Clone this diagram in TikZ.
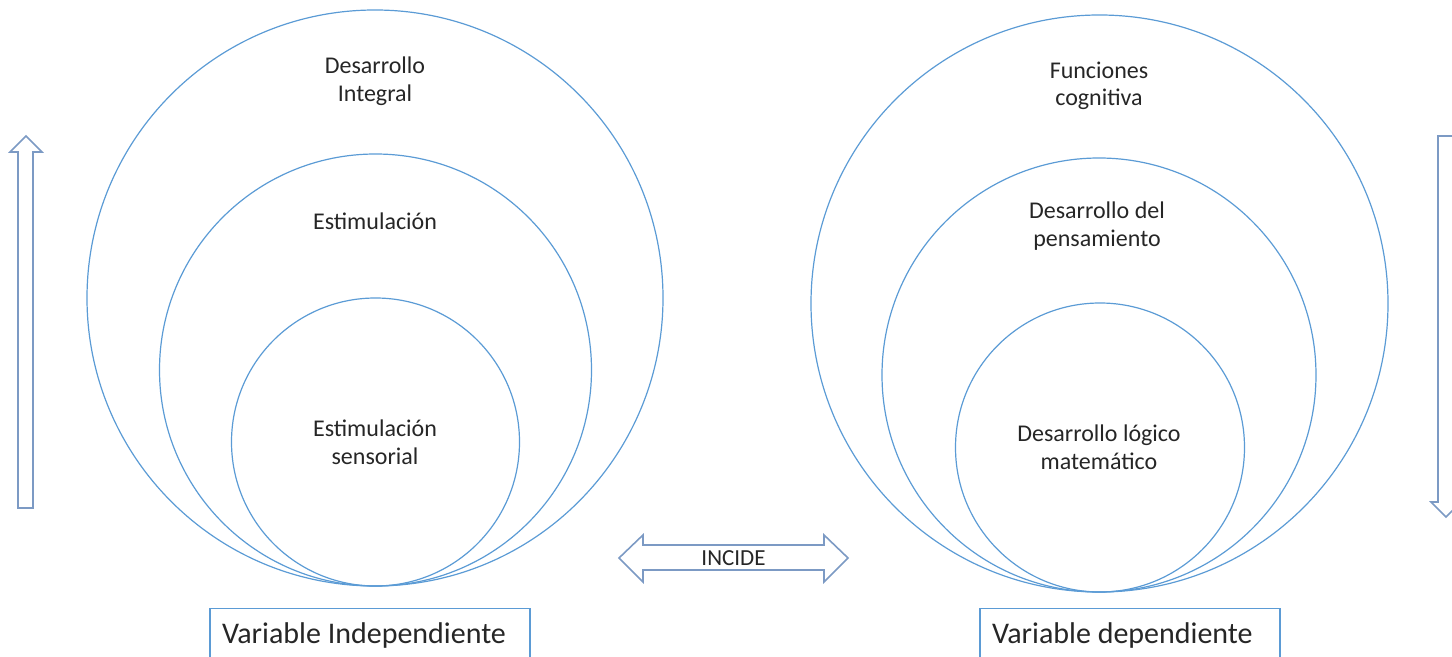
\documentclass[tikz,border=0pt]{standalone}
\usepackage{fontspec}
\setmainfont{Carlito}
\usetikzlibrary{positioning}
\definecolor{ringblue}{HTML}{5B9BD5}
\definecolor{arrowline}{HTML}{7C9AC4}

\begin{document}
\begin{tikzpicture}[
  x=0.5pt, y=-0.5pt,
  ring/.style={draw=ringblue, line width=0.6pt, circle, inner sep=0pt},
  lbl/.style={align=center, font=\fontsize{12}{13.8}\selectfont, text=black!85},
  varbox/.style={draw=ringblue, line width=0.6pt, inner xsep=6pt, text width=148pt, align=flush left, minimum height=27pt, anchor=north, font=\fontsize{15}{18}\selectfont, text=black!85},
  blockarrow/.style={draw=arrowline, line width=0.8pt, fill=white, line join=miter}
]
\useasboundingbox (0,0) rectangle (1452,657);

% independent side
\node[ring, minimum size=288pt] (outerL) at (375,298) {};
\node[ring, minimum size=216pt] (midL) at (375.5,370) {};
\node[ring, minimum size=144pt] (innerL) at (375.5,442) {};
\node[lbl] (integral) at (375,81) {Desarrollo\\Integral};
\node[lbl] (estim) at (375,221) {Estimulación};
\node[lbl] (sensor) at (375,442) {Estimulación\\sensorial};

% dependent side
\node[ring, minimum size=288.5pt] (outerR) at (1099.5,303.5) {};
\node[ring, minimum size=217pt] (midR) at (1099,375) {};
\node[ring, minimum size=144.5pt] (innerR) at (1100,447.5) {};
\node[lbl] (cogn) at (1099,86) {Funciones\\cognitiva};
\node[lbl] (pensam) at (1097,226) {Desarrollo del\\pensamiento};
\node[lbl] (logico) at (1099,447) {Desarrollo lógico\\matemático};

% block arrows
\draw[blockarrow] (18,508) -- (18,152) -- (10,152) -- (26,136) -- (42,152) -- (33,152) -- (33,508) -- cycle;
\draw[blockarrow] (1438,136) -- (1438,502) -- (1431,502) -- (1446,517) -- (1461,502) -- (1453,502) -- (1453,136) -- cycle;
\draw[blockarrow] (619,558) -- (643,535) -- (643,545) -- (824,545) -- (824,535) -- (848,558)
  -- (824,582) -- (824,570) -- (643,570) -- (643,582) -- cycle;
\node[font=\fontsize{11.5}{13}\selectfont, text=black!85] (incide) at (733.5,558) {INCIDE};

% variable boxes
\node[varbox] (indep) at (370,608) {Variable Independiente};
\node[varbox, text width=138pt] (dep) at (1130,608) {Variable dependiente};
\end{tikzpicture}
\end{document}
